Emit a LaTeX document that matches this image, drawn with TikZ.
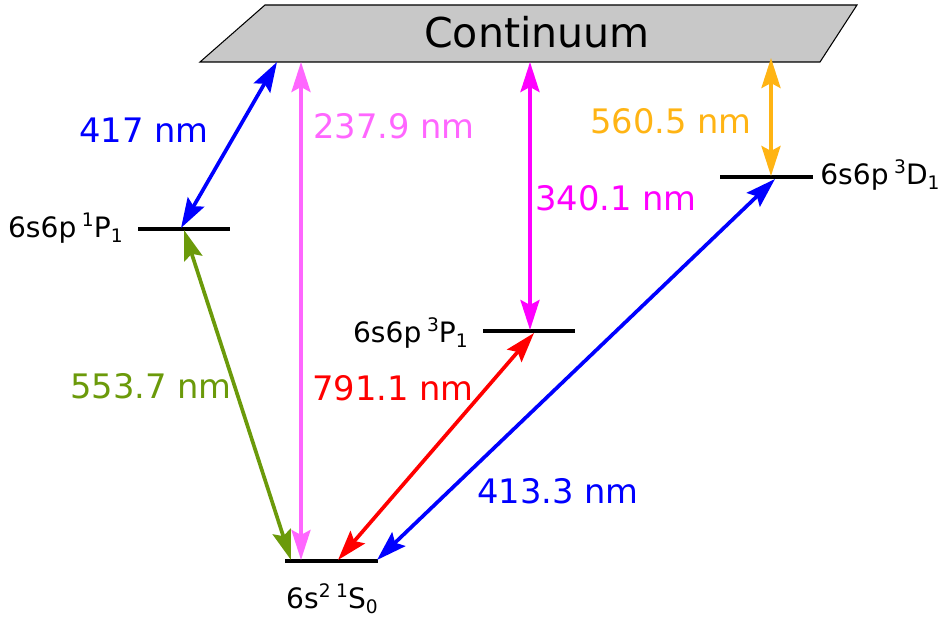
\documentclass[tikz,border=0pt]{standalone}
\usepackage{fontspec}
\setmainfont{DejaVu Sans}
\usepackage{xcolor}
\usetikzlibrary{arrows.meta, positioning, calc}

\definecolor{bandgray}{RGB}{200,200,200}
\definecolor{linepink}{RGB}{255,102,255}
\definecolor{linemagenta}{RGB}{255,0,255}
\definecolor{lineorange}{RGB}{255,180,20}
\definecolor{lineolive}{RGB}{107,154,10}

\newcommand{\supr}[1]{\raisebox{0.4em}{\fontsize{10.6}{11}\selectfont #1}}
\newcommand{\subr}[1]{\raisebox{-0.15em}{\fontsize{10.6}{11}\selectfont #1}}
\newcommand{\gap}{\hspace{0.2em}}

\begin{document}
\begin{tikzpicture}[
    x=0.02cm, y=-0.02cm,
    level/.style={draw, line width=2.3pt},
    trans/.style={draw, line width=2.1pt, {Stealth[length=0.6cm, width=0.38cm, inset=0.1cm]}-{Stealth[length=0.6cm, width=0.38cm, inset=0.1cm]}},
    wave/.style={font=\fontsize{19.2}{22}\selectfont, inner sep=0pt},
    state/.style={font=\fontsize{16}{18}\selectfont, inner sep=0pt}
]
    \useasboundingbox (0,0) rectangle (940,617);

    % continuum band
    \draw[fill=bandgray, line width=0.6pt] (265,5) -- (857,5) -- (820,62) -- (200,62) -- cycle;
    \node[font=\fontsize{23.4}{28}\selectfont] (cont) at (537,32) {Continuum};

    % levels
    \draw[level] (285,561) coordinate (S0w) -- (378,561) coordinate (S0e);
    \draw[level] (138,229) coordinate (P1w) -- (230,229) coordinate (P1e);
    \draw[level] (483,331) coordinate (T1w) -- (575,331) coordinate (T1e);
    \draw[level] (720,177) coordinate (D1w) -- (813,177) coordinate (D1e);

    \node[state, anchor=base] (lS0) at (332,609) {6s\supr{2}\gap\supr{1}S\subr{0}};
    \node[state, anchor=base east] (lP1) at (123,238) {6s6p\gap\supr{1}P\subr{1}};
    \node[state, anchor=base east] (lT1) at (468,343) {6s6p\gap\supr{3}P\subr{1}};
    \node[state, anchor=base west] (lD1) at (820,185) {6s6p\gap\supr{3}D\subr{1}};

    % arrow ends
    \coordinate (cA) at (277,62);
    \coordinate (cB) at (301,62);
    \coordinate (cC) at (530,62);
    \coordinate (cD) at (771,58);
    \coordinate (pA) at (181,228);
    \coordinate (pB) at (184,230);
    \coordinate (sA) at (291,560);
    \coordinate (sB) at (301,560);
    \coordinate (sC) at (338,560);
    \coordinate (sD) at (377,560);
    \coordinate (tA) at (530,330);
    \coordinate (tB) at (534,333);
    \coordinate (dA) at (771,176);
    \coordinate (dB) at (775,179);

    % transitions
    \draw[trans, blue] (pA) -- (cA);
    \draw[trans, linepink] (sB) -- (cB);
    \draw[trans, linemagenta] (tA) -- (cC);
    \draw[trans, lineorange] (dA) -- (cD);
    \draw[trans, lineolive] (pB) -- (sA);
    \draw[trans, red] (sC) -- (tB);
    \draw[trans, blue] (sD) -- (dB);

    \node[wave, blue, anchor=west] (w417) at (79,130) {417 nm};
    \node[wave, linepink, anchor=west] (w237) at (313,126) {237.9 nm};
    \node[wave, linemagenta, anchor=west] (w340) at (535,198) {340.1 nm};
    \node[wave, lineorange, anchor=east] (w560) at (752,121) {560.5 nm};
    \node[wave, lineolive, anchor=west] (w553) at (70,386) {553.7 nm};
    \node[wave, red, anchor=west] (w791) at (312,388) {791.1 nm};
    \node[wave, blue, anchor=west] (w413) at (477,491) {413.3 nm};
\end{tikzpicture}
\end{document}
